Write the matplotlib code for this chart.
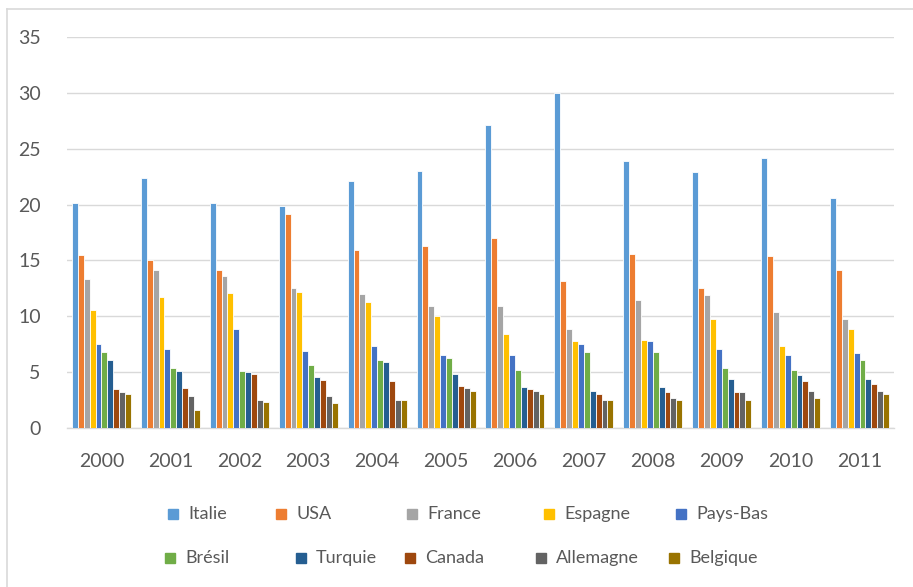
import numpy as np
import matplotlib.pyplot as plt
from matplotlib.lines import Line2D
from matplotlib.patches import Rectangle

plt.rcParams['font.family'] = ['Lato', 'DejaVu Sans']

# données
years = ['2000', '2001', '2002', '2003', '2004', '2005',
         '2006', '2007', '2008', '2009', '2010', '2011']
countries = ['Italie', 'USA', 'France', 'Espagne', 'Pays-Bas',
             'Brésil', 'Turquie', 'Canada', 'Allemagne', 'Belgique']

italie = [20.1, 22.4, 20.1, 19.9, 22.1, 23.0, 27.1, 30.0, 23.9, 22.9, 24.2, 20.6]
usa = [15.5, 15.0, 14.1, 19.2, 15.9, 16.3, 17.0, 13.2, 15.6, 12.5, 15.4, 14.1]
france = [13.3, 14.1, 13.6, 12.5, 12.0, 10.9, 10.9, 8.9, 11.5, 11.9, 10.4, 9.8]
espagne = [10.6, 11.7, 12.1, 12.2, 11.3, 10.0, 8.4, 7.8, 7.9, 9.8, 7.3, 8.9]
pays_bas = [7.5, 7.1, 8.9, 6.9, 7.3, 6.5, 6.5, 7.5, 7.8, 7.1, 6.5, 6.7]
bresil = [6.8, 5.4, 5.1, 5.6, 6.1, 6.3, 5.2, 6.8, 6.8, 5.4, 5.2, 6.1]
turquie = [6.1, 5.1, 5.0, 4.6, 5.9, 4.8, 3.7, 3.3, 3.7, 4.4, 4.7, 4.4]
canada = [3.5, 3.6, 4.8, 4.3, 4.2, 3.8, 3.5, 3.0, 3.2, 3.2, 4.2, 3.9]
allemagne = [3.2, 2.9, 2.5, 2.9, 2.5, 3.6, 3.3, 2.5, 2.7, 3.2, 3.3, 3.3]
belgique = [3.0, 1.6, 2.3, 2.2, 2.5, 3.3, 3.0, 2.5, 2.5, 2.5, 2.7, 3.0]

series = [italie, usa, france, espagne, pays_bas,
          bresil, turquie, canada, allemagne, belgique]
colors = ['#5B9BD5', '#ED7D31', '#A5A5A5', '#FFC000', '#4472C4',
          '#70AD47', '#255E91', '#9E480E', '#636363', '#997300']

txt_color = '#595959'
W, H = 913, 587

fig = plt.figure(figsize=(9.13, 5.87), dpi=100)
ax = fig.add_axes([67 / W, 1 - 428 / H, 827 / W, 391 / H])

x = np.arange(len(years))
bw = 0.0856
n = len(series)
for i, (vals, c) in enumerate(zip(series, colors)):
    offs = (i - (n - 1) / 2) * bw
    ax.bar(x + offs, vals, width=bw, color=c, edgecolor='white',
           linewidth=0.6, zorder=3)

ax.set_xlim(-0.5, len(years) - 0.5)
ax.set_ylim(0, 35)
ax.set_yticks(range(0, 36, 5))
ax.set_xticks(x)
ax.set_xticklabels(years)
ax.grid(axis='y', color='#D9D9D9', linewidth=1, zorder=0)
ax.set_axisbelow(True)
for s in ['top', 'right', 'left']:
    ax.spines[s].set_visible(False)
ax.spines['bottom'].set_color('#D9D9D9')
ax.spines['bottom'].set_linewidth(1)
ax.tick_params(axis='both', length=0, labelsize=14, colors=txt_color)
ax.tick_params(axis='y', pad=19)
ax.tick_params(axis='x', pad=18)

# légende (placement manuel, façon Excel)
leg_x = [[173, 281, 412, 549, 681], [170, 301, 410, 541, 674]]
leg_y = [514, 558]
for row in range(2):
    for col in range(5):
        k = row * 5 + col
        px, py = leg_x[row][col], leg_y[row]
        fig.add_artist(Rectangle(((px - 5) / W, 1 - (py + 5) / H), 10 / W, 10 / H,
                                 transform=fig.transFigure, color=colors[k]))
        fig.text((px + 15) / W, 1 - py / H, countries[k], fontsize=13,
                 color=txt_color, va='center', ha='left')

# cadre du graphique
fig.add_artist(Line2D([7 / W, 1], [1 - 9 / H, 1 - 9 / H], color='#D9D9D9', lw=1.2))
fig.add_artist(Line2D([7 / W, 7 / W], [0, 1 - 9 / H], color='#D9D9D9', lw=1.2))

fig.savefig('out.png', dpi=100)
